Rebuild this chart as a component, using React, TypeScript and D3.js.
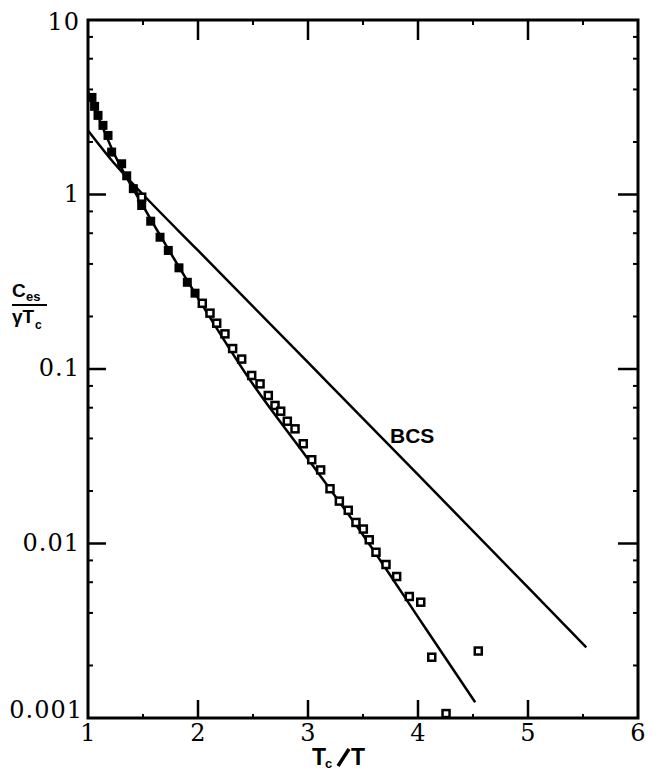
import React from "react";
import * as d3 from "d3";

const filledX = [1.036, 1.06, 1.091, 1.136, 1.182, 1.215, 1.306, 1.352, 1.412, 1.488, 1.57, 1.655, 1.73, 1.827, 1.903, 1.973];
const filledY = [3.6, 3.2, 2.84, 2.49, 2.18, 1.75, 1.5, 1.28, 1.08, 0.865, 0.703, 0.569, 0.478, 0.38, 0.314, 0.272];

const openX = [1.488, 2.039, 2.109, 2.17, 2.245, 2.315, 2.397, 2.488, 2.564, 2.639, 2.7, 2.752, 2.812, 2.882, 2.957, 3.034, 3.115, 3.2, 3.285, 3.366, 3.436, 3.503, 3.557, 3.618, 3.709, 3.806, 3.921, 4.025, 4.125, 4.548, 4.255];
const openY = [0.965, 0.238, 0.209, 0.183, 0.159, 0.131, 0.114, 0.0918, 0.0822, 0.0705, 0.0618, 0.0573, 0.0502, 0.0454, 0.0373, 0.0302, 0.0264, 0.0206, 0.0175, 0.0155, 0.0132, 0.0121, 0.0105, 0.00891, 0.00758, 0.00647, 0.00497, 0.00461, 0.00223, 0.00242, 0.00106];

const bcsX = [1, 1.25, 1.5, 2, 3, 4, 5, 5.53];
const bcsY = [2.33, 1.48, 1.0, 0.478, 0.109, 0.0248, 0.0056, 0.00254];

const fitX = [1.0, 1.25, 1.5, 2.0, 2.47, 3.0, 3.5, 4.05, 4.52];
const fitY = [3.9, 1.65, 0.86, 0.255, 0.087, 0.0305, 0.0112, 0.0034, 0.00123];

const xTicks = [1, 2, 3, 4, 5, 6];
const xMinor = [1.5, 2.5, 3.5, 4.5, 5.5];
const yTicks = [10, 1, 0.1, 0.01, 0.001];
const yTickLabels = ["10", "1", "0.1", "0.01", "0.001"];
const yMinorMult = [2, 4, 6, 8];

const W = 667, H = 783;
const L = 88, R = 638, T = 20, B = 718;

export default function App() {
  const x = d3.scaleLinear().domain([1, 6]).range([L, R]);
  const y = d3.scaleLog().domain([0.001, 10]).range([B, T]);

  const line = d3.line<[number, number]>()
    .x((d) => x(d[0]))
    .y((d) => y(d[1]))
    .curve(d3.curveMonotoneX);

  const bcsPath = line(bcsX.map((v, i) => [v, bcsY[i]]) as [number, number][]) || "";
  const fitPath = line(fitX.map((v, i) => [v, fitY[i]]) as [number, number][]) || "";

  const yMinor: number[] = [];
  [0.001, 0.01, 0.1, 1].forEach((dec) => yMinorMult.forEach((m) => yMinor.push(dec * m)));

  const serif = "'DejaVu Serif', serif";
  const sans = "'Liberation Sans', Arial, sans-serif";
  const labelDy = [10, 7, 7, 7, 0];

  return (
    <svg width={W} height={H} style={{ position: "absolute", left: 0, top: 0, background: "#fff" }}>
      <rect x={0} y={0} width={W} height={H} fill="#fff" />
      <rect x={L} y={T} width={R - L} height={B - T} fill="none" stroke="#000" strokeWidth={3} />

      {xTicks.slice(1, -1).map((t) => (
        <g key={"xt" + t}>
          <line x1={x(t)} x2={x(t)} y1={B} y2={B - 18} stroke="#000" strokeWidth={2.5} />
          <line x1={x(t)} x2={x(t)} y1={T} y2={T + 20} stroke="#000" strokeWidth={2.5} />
        </g>
      ))}
      {xMinor.map((t) => (
        <g key={"xm" + t}>
          <line x1={x(t)} x2={x(t)} y1={B} y2={B - 4} stroke="#000" strokeWidth={2} />
          <line x1={x(t)} x2={x(t)} y1={T} y2={T + 5} stroke="#000" strokeWidth={2} />
        </g>
      ))}
      {yTicks.slice(1, -1).map((t) => (
        <g key={"yt" + t}>
          <line x1={L} x2={L + 18} y1={y(t)} y2={y(t)} stroke="#000" strokeWidth={2.5} />
          <line x1={R} x2={R - 20} y1={y(t)} y2={y(t)} stroke="#000" strokeWidth={2.5} />
        </g>
      ))}
      {yMinor.map((t, i) => (
        <g key={"ym" + i}>
          <line x1={L} x2={L + 5} y1={y(t)} y2={y(t)} stroke="#000" strokeWidth={2} />
          <line x1={R} x2={R - 5} y1={y(t)} y2={y(t)} stroke="#000" strokeWidth={2} />
        </g>
      ))}

      {xTicks.map((t) => (
        <text key={"xl" + t} x={x(t)} y={741} textAnchor="middle" fontFamily={serif} fontSize={24}>
          {t}
        </text>
      ))}
      {yTicks.map((t, i) => (
        <text key={"yl" + t} x={i === 4 ? 83 : 80} y={y(t) + labelDy[i]} textAnchor="end" fontFamily={serif} fontSize={24} letterSpacing={1}>
          {yTickLabels[i]}
        </text>
      ))}

      <path d={bcsPath} fill="none" stroke="#000" strokeWidth={2.5} />
      <path d={fitPath} fill="none" stroke="#000" strokeWidth={2.5} />

      {filledX.map((v, i) => (
        <rect key={"f" + i} x={x(v) - 4.5} y={y(filledY[i]) - 4.5} width={9} height={9} fill="#000" />
      ))}
      {openX.map((v, i) => (
        <rect key={"o" + i} x={x(v) - 3.5} y={y(openY[i]) - 3.5} width={7} height={7} fill="#fff" stroke="#000" strokeWidth={2.5} />
      ))}

      <text x={390} y={443} fontFamily={sans} fontSize={21} fontWeight="bold">BCS</text>

      <g fontFamily={sans} fontWeight="bold" fill="#000">
        <text x={12} y={297} fontSize={19}>C</text>
        <text x={26} y={301} fontSize={13}>es</text>
        <line x1={12} x2={47} y1={305} y2={305} stroke="#000" strokeWidth={2} />
        <text x={12} y={323} fontSize={19}>γT</text>
        <text x={35} y={329} fontSize={12}>c</text>
      </g>

      <g fontFamily={sans} fontWeight="bold" fill="#000">
        <text x={312} y={765} fontSize={23}>T</text>
        <text x={325} y={768} fontSize={13}>c</text>
        <line x1={338} x2={349} y1={766} y2={749} stroke="#000" strokeWidth={3.5} />
        <text x={351} y={765} fontSize={23}>T</text>
      </g>
    </svg>
  );
}
